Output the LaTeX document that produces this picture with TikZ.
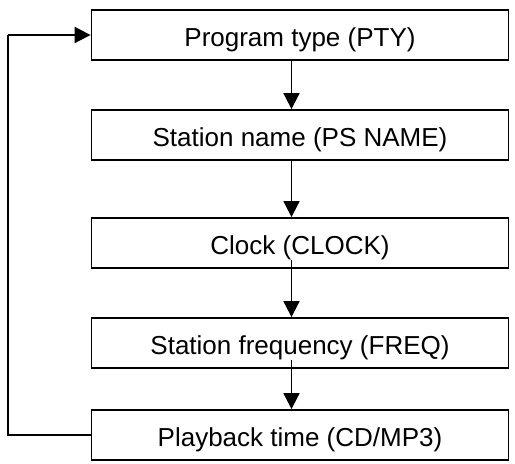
\documentclass[tikz,border=0pt]{standalone}
\usepackage{fontspec}
\setmainfont{Liberation Sans}
\usetikzlibrary{arrows.meta}
\begin{document}
\begin{tikzpicture}[x=1pt,y=-1pt,
  stepbox/.style={draw=black, line width=1.8pt, fill=white, minimum width=417pt, minimum height=50pt,
    inner sep=0pt, text height=23pt, text depth=0pt, font=\fontsize{26}{30}\selectfont},
  conn/.style={line width=1.8pt, -{Triangle[length=16pt,width=16pt]}},
  plain/.style={line width=1.8pt}]
\useasboundingbox (0,0) rectangle (515,464);
\node[stepbox] (pty)   at (300,35)  {Program type (PTY)};
\node[stepbox] (ps)    at (300,135) {Station name (PS NAME)};
\node[stepbox] (clock) at (300,243) {Clock (CLOCK)};
\node[stepbox] (freq)  at (300,343) {Station frequency (FREQ)};
\node[stepbox] (play)  at (300,435) {Playback time (CD/MP3)};
\coordinate (lb) at (7.7,435);
\coordinate (lt) at (7.7,35);
\draw[conn] ([xshift=-8.5pt]pty.south) -- ([xshift=-8.5pt]ps.north);
\draw[conn] ([xshift=-8.5pt]ps.south) -- ([xshift=-8.5pt]clock.north);
\draw[conn] ([xshift=-8.5pt,yshift=9pt]clock.south) -- ([xshift=-8.5pt]freq.north);
\draw[conn] ([xshift=-8.5pt,yshift=9pt]freq.south) -- ([xshift=-8.5pt]play.north);
\draw[plain] (play.west) -- (lb) -- (lt);
\draw[conn] (lt) -- (pty.west);
\end{tikzpicture}
\end{document}
